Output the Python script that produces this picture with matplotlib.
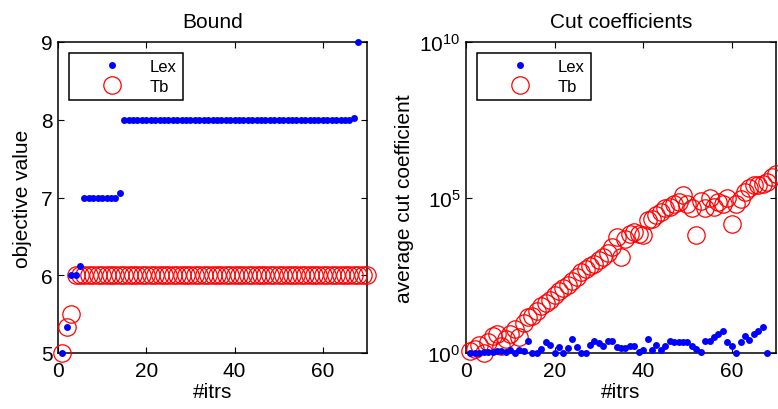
import numpy as np
import matplotlib
matplotlib.use("Agg")
import matplotlib.pyplot as plt
from matplotlib.ticker import FixedLocator, FixedFormatter, NullLocator
from matplotlib.lines import Line2D

plt.rcParams['font.family'] = ['Liberation Sans', 'DejaVu Sans']
plt.rcParams['mathtext.fontset'] = 'custom'
plt.rcParams['mathtext.rm'] = 'Liberation Sans'
plt.rcParams['mathtext.it'] = 'Liberation Sans:italic'
plt.rcParams['mathtext.bf'] = 'Liberation Sans:bold'

# ---------------- data ----------------
# Left panel: Bound (objective value per iteration)
bound_lex_x = list(range(1, 69))
bound_lex_y = [5.0, 5.33, 6.0, 6.0, 6.12] + [7.0] * 8 + [7.06] + [8.0] * 52 + [8.02, 9.0]
bound_tb_x = list(range(1, 71))
bound_tb_y = [5.0, 5.33, 5.5] + [6.0] * 67

# Right panel: Cut coefficients (log10 of average cut coefficient)
cut_lex_x = list(range(1, 69))
cut_lex_log10 = [0.0, 0.0, 0.0, 0.02, 0.02, 0.03, 0.05, 0.05, 0.03, 0.1,
                 0.0, 0.1, 0.05, 0.4, 0.0, 0.0, 0.13, 0.34, 0.25, 0.0,
                 0.18, 0.0, 0.15, 0.45, 0.18, 0.0, 0.0, 0.26, 0.38, 0.32,
                 0.24, 0.4, 0.4, 0.18, 0.15, 0.15, 0.22, 0.22, 0.02, 0.1,
                 0.45, 0.1, 0.26, 0.1, 0.22, 0.38, 0.34, 0.34, 0.34, 0.34,
                 0.24, 0.12, 0.02, 0.38, 0.38, 0.5, 0.6, 0.72, 0.34, 0.24,
                 0.0, 0.34, 0.56, 0.43, 0.62, 0.72, 0.83, 0.0]
cut_tb_x = list(range(1, 71))
cut_tb_log10 = [0.05, 0.13, 0.26, 0.0, 0.35, 0.55, 0.6, 0.24, 0.45, 0.6,
                0.77, 0.5, 0.95, 1.15, 1.2, 1.35, 1.5, 1.6, 1.7, 1.85,
                2.0, 2.1, 2.2, 2.3, 2.45, 2.6, 2.7, 2.8, 2.87, 2.98,
                3.1, 3.2, 3.4, 3.73, 3.09, 3.68, 3.84, 3.9, 3.84, 3.8,
                4.27, 4.32, 4.45, 4.54, 4.65, 4.7, 4.8, 4.85, 5.07, 4.8,
                4.65, 3.8, 4.9, 4.65, 4.97, 4.7, 4.86, 4.8, 4.97, 4.16,
                4.8, 4.95, 5.18, 5.3, 5.4, 5.4, 5.45, 5.5, 5.67, 5.77]

series_labels = ['Lex', 'Tb']
x_ticks = [0, 20, 40, 60]
bound_y_ticks = [5, 6, 7, 8, 9]
cut_y_ticks = [1, 1e5, 1e10]
cut_y_ticklabels = [r'$\mathdefault{10^{0}}$', r'$\mathdefault{10^{5}}$', r'$\mathdefault{10^{10}}$']

# ---------------- figure ----------------
fig = plt.figure(figsize=(7.78, 4.10), dpi=100)
axL = fig.add_axes([58 / 778, 1 - 354 / 410, 309 / 778, 311 / 410])
axR = fig.add_axes([466 / 778, 1 - 354 / 410, 310 / 778, 311 / 410])

dot_style = dict(linestyle='none', marker='o', markersize=5, color='blue',
                 markeredgewidth=0)
circ_style = dict(linestyle='none', marker='o', markersize=12.5, markerfacecolor='none',
                  markeredgecolor='red', markeredgewidth=0.9)

# Left
axL.plot(bound_lex_x, bound_lex_y, clip_on=False, zorder=4, **dot_style)
axL.plot(bound_tb_x, bound_tb_y, clip_on=False, zorder=3, **circ_style)
axL.set_xlim(0, 70)
axL.set_ylim(5, 9)
axL.set_xticks(x_ticks)
axL.set_yticks(bound_y_ticks)
axL.set_title('Bound', fontsize=15, pad=11)
axL.set_xlabel('#itrs', fontsize=15, labelpad=1)
axL.set_ylabel('objective value', fontsize=15, labelpad=6)

# Right
axR.plot(cut_tb_x, 10 ** np.array(cut_tb_log10), clip_on=False, zorder=3, **circ_style)
axR.plot(cut_lex_x, 10 ** np.array(cut_lex_log10), clip_on=False, zorder=4, **dot_style)
axR.set_yscale('log')
axR.set_xlim(0, 70)
axR.set_ylim(1, 1e10)
axR.set_xticks(x_ticks)
axR.yaxis.set_major_locator(FixedLocator(cut_y_ticks))
axR.yaxis.set_major_formatter(FixedFormatter(cut_y_ticklabels))
axR.yaxis.set_minor_locator(NullLocator())
axR.set_title('Cut coefficients', fontsize=15, pad=11)
axR.set_xlabel('#itrs', fontsize=15, labelpad=1)
axR.set_ylabel('average cut coefficient', fontsize=15, labelpad=4)

for ax in (axL, axR):
    for s in ax.spines.values():
        s.set_linewidth(1.1)
    ax.tick_params(direction='in', length=4, width=0.8, labelsize=15,
                   top=True, right=True)
    ax.tick_params(axis='x', pad=6)
    ax.tick_params(axis='y', pad=4)

handles = [Line2D([], [], **dot_style), Line2D([], [], **circ_style)]
for ax, xa in ((axL, 11 / 309), (axR, 11 / 310)):
    leg = ax.legend(handles, series_labels, loc='upper left',
                    bbox_to_anchor=(xa, 1 - 11 / 311), borderaxespad=0,
                    fontsize=12, frameon=True, fancybox=False, framealpha=1,
                    edgecolor='black', handlelength=4.4, handletextpad=0.1,
                    borderpad=0.35, labelspacing=0.3)
    leg.get_frame().set_linewidth(1.1)

fig.savefig('out.png', dpi=100)
